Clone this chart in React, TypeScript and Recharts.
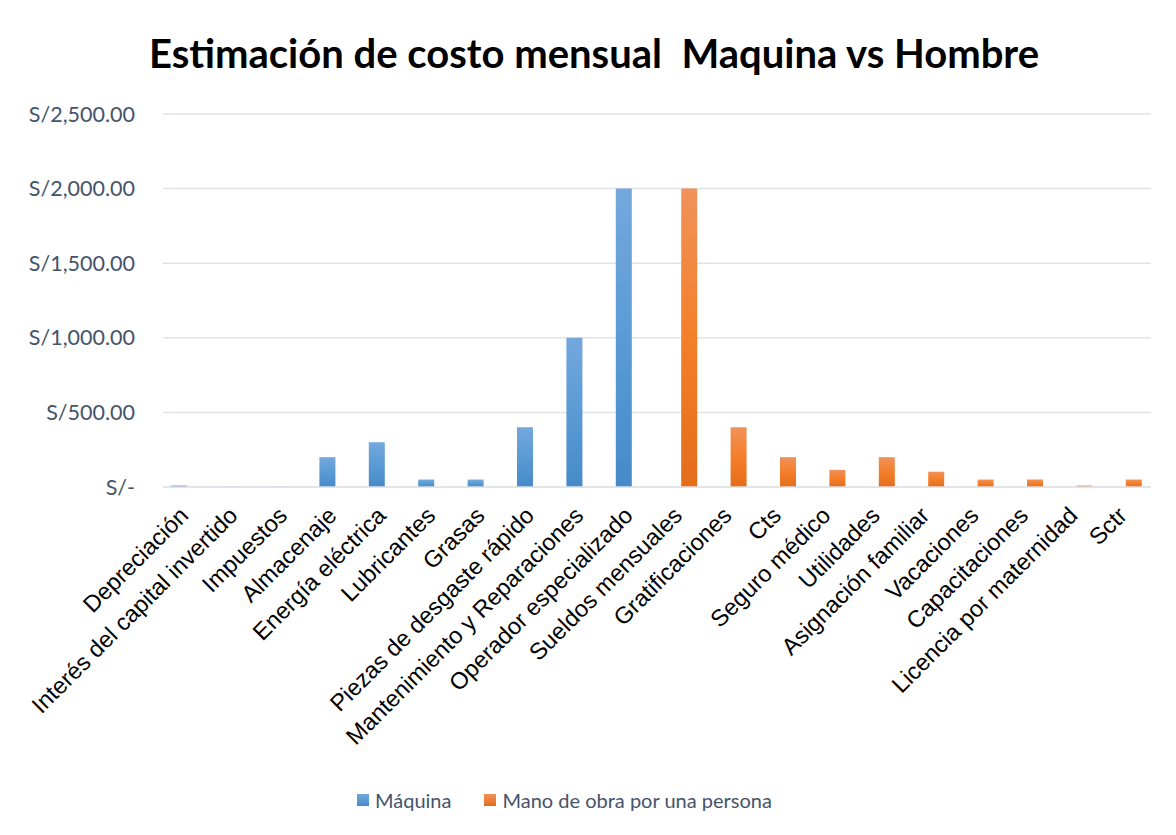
import React from "react";
import { BarChart, Bar, XAxis, YAxis, CartesianGrid, Legend } from "recharts";

const CATEGORIES = [
  "Depreciación",
  "Interés del capital invertido",
  "Impuestos",
  "Almacenaje",
  "Energía eléctrica",
  "Lubricantes",
  "Grasas",
  "Piezas de desgaste rápido",
  "Mantenimiento y Reparaciones",
  "Operador especializado",
  "Sueldos mensuales",
  "Gratificaciones",
  "Cts",
  "Seguro médico",
  "Utilidades",
  "Asignación familiar",
  "Vacaciones",
  "Capacitaciones",
  "Licencia por maternidad",
  "Sctr",
];

// Máquina: first ten categories, Mano de obra: the rest
const MAQUINA = [10, 3, 3, 200, 300, 50, 50, 400, 1000, 2000, null, null, null, null, null, null, null, null, null, null];
const MANO_OBRA = [null, null, null, null, null, null, null, null, null, null, 2000, 400, 200, 115, 200, 102.5, 50, 50, 10, 50];

const Y_TICKS = [0, 500, 1000, 1500, 2000, 2500];

const data = CATEGORIES.map((name, i) => ({ name, maquina: MAQUINA[i], mano: MANO_OBRA[i] }));

const AXIS_FONT = "Lato, 'Open Sans', sans-serif";
const GRID = "#dfe3e8";

const fmtSoles = (v: number) =>
  v === 0 ? "S/-" : "S/" + v.toLocaleString("en-US", { minimumFractionDigits: 2, maximumFractionDigits: 2 });

function XTick({ x, y, payload }: any) {
  const ax = x + 2;
  const ay = y + 30;
  return (
    <text
      x={ax}
      y={ay}
      textAnchor="end"
      transform={`rotate(-45, ${ax}, ${ay})`}
      fontFamily="'Liberation Sans', Arial, sans-serif"
      fontSize={23.5}
      fill="#000"
    >
      {payload.value}
    </text>
  );
}

function LegendBox() {
  const item = (label: string, from: string, to: string, gap: number) => (
    <div style={{ display: "flex", alignItems: "center", marginRight: gap }}>
      <span style={{ width: 12, height: 12, background: `linear-gradient(${from}, ${to})`, marginRight: 6 }} />
      <span>{label}</span>
    </div>
  );
  return (
    <div
      style={{
        display: "flex",
        alignItems: "center",
        height: 30,
        fontFamily: AXIS_FONT,
        fontSize: 20,
        color: "#44546a",
      }}
    >
      {item("Máquina", "#74a8dc", "#478bca", 33)}
      {item("Mano de obra por una persona", "#f0925a", "#e46c1a", 0)}
    </div>
  );
}

export default function App() {
  return (
    <div
      style={{
        position: "relative",
        left: -1,
        top: -3,
        width: 1167,
        height: 830,
        border: "1px solid #d9d9d9",
        background: "#fff",
      }}
    >
      <div
        style={{
          position: "absolute",
          top: 23,
          left: 0,
          width: 1167,
          paddingLeft: 5,
          boxSizing: "border-box",
          textAlign: "center",
          fontFamily: AXIS_FONT,
          fontWeight: 700,
          fontSize: 40,
          lineHeight: "48px",
          whiteSpace: "pre",
          color: "#000",
        }}
      >
        {"Estimación de costo mensual  Maquina vs Hombre"}
      </div>
      <BarChart
        width={1167}
        height={830}
        data={data}
        margin={{ top: 108, right: 24, bottom: 21, left: 0 }}
        barCategoryGap="16.6%"
        barGap={0}
      >
        <defs>
          <linearGradient id="gBlue" x1="0" y1="0" x2="0" y2="1">
            <stop offset="0%" stopColor="#74a8dc" />
            <stop offset="50%" stopColor="#5b9bd5" />
            <stop offset="100%" stopColor="#458ac9" />
          </linearGradient>
          <linearGradient id="gOrange" x1="0" y1="0" x2="0" y2="1">
            <stop offset="0%" stopColor="#f0925a" />
            <stop offset="50%" stopColor="#f47f2a" />
            <stop offset="100%" stopColor="#e46c1a" />
          </linearGradient>
        </defs>
        <CartesianGrid vertical={false} stroke={GRID} strokeWidth={1.5} />
        <XAxis
          dataKey="name"
          interval={0}
          height={298}
          tickLine={false}
          axisLine={{ stroke: GRID, strokeWidth: 1.5 }}
          tickSize={0}
          tickMargin={0}
          tick={<XTick />}
        />
        <YAxis
          width={155}
          domain={[0, 2500]}
          ticks={Y_TICKS}
          tickFormatter={fmtSoles}
          axisLine={false}
          tickLine={false}
          tickSize={0}
          tickMargin={28}
          tick={{ fontFamily: AXIS_FONT, fontSize: 21.5, fill: "#44546a" }}
        />
        <Legend
          verticalAlign="bottom"
          align="left"
          wrapperStyle={{ left: 349, width: "auto" }}
          content={() => <LegendBox />}
        />
        <Bar dataKey="maquina" name="Máquina" fill="url(#gBlue)" isAnimationActive={false} />
        <Bar dataKey="mano" name="Mano de obra por una persona" fill="url(#gOrange)" isAnimationActive={false} />
      </BarChart>
    </div>
  );
}
